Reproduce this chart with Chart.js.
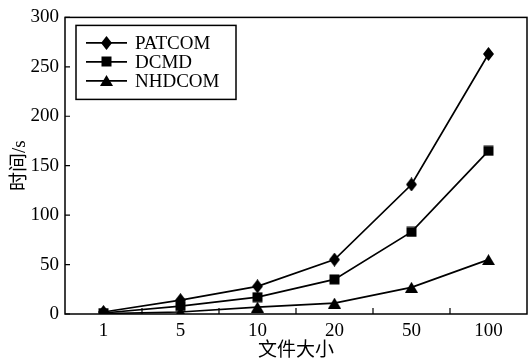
<!DOCTYPE html>
<html lang="zh">
<head>
    <meta charset="UTF-8">
    <title>文件大小与时间</title>
    <script src="https://cdn.jsdelivr.net/npm/chart.js"></script>
    <style>
        html, body { margin: 0; padding: 0; background: #fff; }
        #wrap { width: 528px; height: 360px; position: relative; }
    </style>
</head>
<body>
    <div id="wrap"><canvas id="timeChart"></canvas></div>

    <script>
        // data
        const fileSizes = ['1', '5', '10', '20', '50', '100'];
        const seriesNames = ['PATCOM', 'DCMD', 'NHDCOM'];
        const patcom = [2, 14, 28, 55, 131, 263];
        const dcmd = [1, 8, 17, 35, 83, 165];
        const nhdcom = [0.5, 2, 7, 11, 27, 55];
        const yTicks = [0, 50, 100, 150, 200, 250, 300];

        const FONT = "'Liberation Serif', 'Times New Roman', 'Noto Sans CJK SC', serif";

        // small canvases used as point markers (diamond is taller than wide, like the figure)
        function makeMarker(kind) {
            const c = document.createElement('canvas');
            const w = kind === 'triangle' ? 13 : 11, h = kind === 'diamond' ? 14 : 11;
            c.width = w; c.height = h;
            const g = c.getContext('2d');
            g.fillStyle = '#000';
            g.beginPath();
            if (kind === 'diamond') {
                g.moveTo(w / 2, 0); g.lineTo(w, h / 2); g.lineTo(w / 2, h); g.lineTo(0, h / 2);
            } else if (kind === 'square') {
                g.rect(0.5, 0.5, w - 1, h - 1);
            } else {
                g.moveTo(w / 2, 0); g.lineTo(w, h); g.lineTo(0, h);
            }
            g.closePath();
            g.fill();
            return c;
        }
        const markers = [makeMarker('diamond'), makeMarker('square'), makeMarker('triangle')];

        // frame, inward ticks and boxed legend
        const decor = {
            id: 'decor',
            afterDatasetsDraw(chart) {
                const { ctx, chartArea: a } = chart;
                const xs = chart.scales.x, ys = chart.scales.y;
                ctx.save();
                ctx.strokeStyle = '#000';
                ctx.lineWidth = 1.5;
                ctx.strokeRect(a.left, a.top, a.right - a.left, a.bottom - a.top);

                ctx.lineWidth = 1.2;
                ctx.beginPath();
                yTicks.forEach(v => {
                    const y = ys.getPixelForValue(v);
                    ctx.moveTo(a.left, y); ctx.lineTo(a.left + 5, y);
                });
                const half = (xs.getPixelForValue(1) - xs.getPixelForValue(0)) / 2;
                for (let i = 0; i < fileSizes.length - 1; i++) {
                    const x = xs.getPixelForValue(i) + half;
                    ctx.moveTo(x, a.bottom); ctx.lineTo(x, a.bottom - 6);
                }
                ctx.stroke();

                // legend
                const bx = a.left + 11, by = a.top + 8;
                ctx.lineWidth = 1.5;
                ctx.strokeRect(bx, by, 160, 74);
                ctx.font = '19px ' + FONT;
                ctx.fillStyle = '#000';
                ctx.textBaseline = 'middle';
                chart.data.datasets.forEach((ds, i) => {
                    const y = by + 17.5 + i * 19;
                    ctx.lineWidth = 1.6;
                    ctx.beginPath();
                    ctx.moveTo(bx + 10, y); ctx.lineTo(bx + 51, y);
                    ctx.stroke();
                    const m = markers[i];
                    ctx.drawImage(m, Math.round(bx + 30.5 - m.width / 2), Math.round(y - m.height / 2));
                    ctx.fillText(ds.label, bx + 59, y + 1);
                });
                ctx.restore();
            }
        };

        const values = [patcom, dcmd, nhdcom];
        const datasets = seriesNames.map((name, i) => ({
            label: name,
            data: values[i],
            borderColor: '#000',
            backgroundColor: '#000',
            borderWidth: 1.7,
            pointStyle: markers[i],
            tension: 0
        }));

        new Chart(document.getElementById('timeChart'), {
            type: 'line',
            data: { labels: fileSizes, datasets: datasets },
            options: {
                responsive: true,
                maintainAspectRatio: false,
                animation: false,
                layout: { autoPadding: false, padding: { top: 15, right: 1, left: 0, bottom: 0 } },
                plugins: { legend: { display: false }, tooltip: { enabled: false } },
                scales: {
                    x: {
                        offset: true,
                        grid: { display: false, drawTicks: false, tickLength: 0 },
                        border: { display: false },
                        ticks: { color: '#000', padding: 6, font: { family: FONT, size: 19 }, maxRotation: 0 },
                        title: { display: true, text: '文件大小', color: '#000', padding: { top: 0, bottom: -2 },
                                 font: { family: FONT, size: 19 } },
                        afterFit: s => { s.height = 46; s.paddingLeft = 0; s.paddingRight = 0; }
                    },
                    y: {
                        min: 0, max: 300,
                        afterBuildTicks: s => { s.ticks = yTicks.map(v => ({ value: v })); },
                        grid: { display: false, drawTicks: false, tickLength: 0 },
                        border: { display: false },
                        ticks: { color: '#000', padding: 6, font: { family: FONT, size: 19 } },
                        title: { display: true, text: '时间/s', color: '#000', padding: { top: 9, bottom: 0 },
                                 font: { family: FONT, size: 19 } },
                        afterFit: s => { s.width = 65; }
                    }
                }
            },
            plugins: [decor]
        });
    </script>
</body>
</html>
